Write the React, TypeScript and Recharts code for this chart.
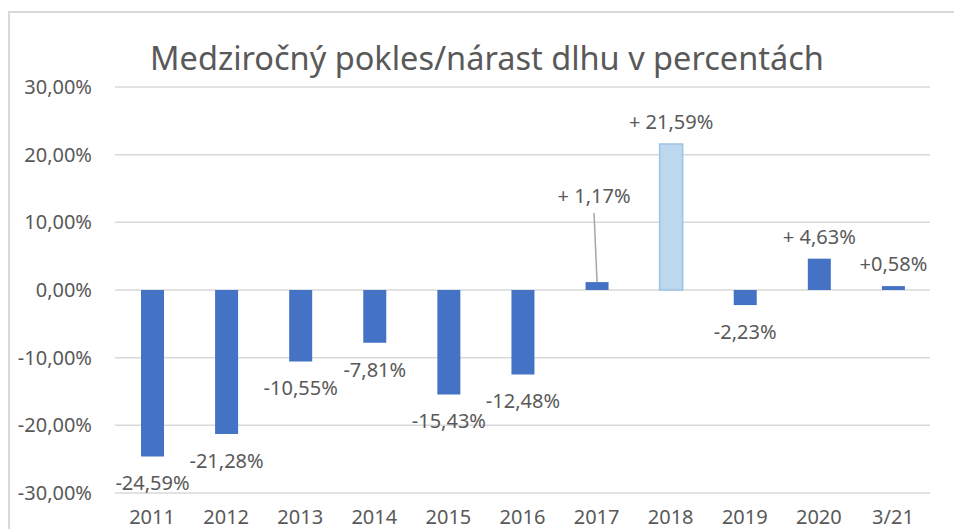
import React from 'react';
import { BarChart, Bar, XAxis, YAxis, CartesianGrid, Cell, LabelList } from 'recharts';

const categories = ['2011', '2012', '2013', '2014', '2015', '2016', '2017', '2018', '2019', '2020', '3/21'];
const changes = [-24.59, -21.28, -10.55, -7.81, -15.43, -12.48, 1.17, 21.59, -2.23, 4.63, 0.58];
const valueLabels = ['-24,59%', '-21,28%', '-10,55%', '-7,81%', '-15,43%', '-12,48%', '+ 1,17%', '+ 21,59%', '-2,23%', '+ 4,63%', '+0,58%'];
const yTicks = [-30, -20, -10, 0, 10, 20, 30];
const highlightedCategories = ['2018'];
const leaderLabelCategories = ['2017'];

const title = 'Medziročný pokles/nárast dlhu v percentách';

const FONT = '"Noto Sans", "Open Sans", sans-serif';
const TEXT = '#595959';
const BAR = '#4472C4';
const BAR_HI = '#BDD7EE';
const BAR_HI_STROKE = '#9DC3E6';
const GRID = '#D9D9D9';

const table = categories.map((c, i) => ({ category: c, value: changes[i], label: valueLabels[i] }));

const fmtPct = (v: number) => v.toFixed(2).replace('.', ',') + '%';

const BarLabel = (props: any) => {
  const { x, y, width, height, value, index } = props;
  const cx = Number(x) + Number(width) / 2;
  const top = Math.min(Number(y), Number(y) + Number(height));
  const bottom = Math.max(Number(y), Number(y) + Number(height));
  const neg = String(value).startsWith('-');
  const cat = categories[index];
  if (!neg && leaderLabelCategories.includes(cat)) {
    const labelCenter = top - 86;
    return (
      <g>
        <line x1={cx - 3} y1={labelCenter + 17} x2={cx} y2={top} stroke="#A6A6A6" strokeWidth={1.5} />
        <text x={cx - 3} y={labelCenter + 7} textAnchor="middle" fill={TEXT} fontSize={20} fontFamily={FONT}>
          {value}
        </text>
      </g>
    );
  }
  const center = neg ? bottom + 27 : top - 22;
  return (
    <text x={cx} y={center + 7} textAnchor="middle" fill={TEXT} fontSize={20} fontFamily={FONT}>
      {value}
    </text>
  );
};

export default function App() {
  return (
    <div
      style={{
        position: 'fixed',
        left: 0,
        top: 0,
        width: 954,
        height: 529,
        overflow: 'hidden',
        background: '#fff',
      }}
    >
      <style>{'html,body{overflow:hidden;}'}</style>
      <div style={{ position: 'absolute', left: 8, top: 8, width: 946, height: 521 }}>
        <div
          style={{
            position: 'absolute',
            left: 0,
            top: 3,
            right: -10,
            bottom: -10,
            borderTop: `2px solid ${GRID}`,
            borderLeft: `2px solid ${GRID}`,
          }}
        />
        <div
          style={{
            position: 'absolute',
            left: 479 - 400,
            width: 800,
            top: 29,
            textAlign: 'center',
            fontFamily: FONT,
            fontSize: 32.5,
            color: TEXT,
            lineHeight: '42px',
            whiteSpace: 'nowrap',
          }}
        >
          {title}
        </div>
        <div style={{ position: 'absolute', left: 0, top: 0 }}>
          <BarChart width={946} height={521} data={table} margin={{ top: 79, right: 24, bottom: 0, left: 0 }}>
            <CartesianGrid vertical={false} stroke={GRID} strokeWidth={1.5} />
            <XAxis
              dataKey="category"
              axisLine={false}
              tickLine={false}
              tickSize={0}
              tickMargin={17}
              height={36}
              interval={0}
              tick={{ fill: TEXT, fontSize: 20, fontFamily: FONT }}
            />
            <YAxis
              domain={[-30, 30]}
              ticks={yTicks}
              axisLine={false}
              tickLine={false}
              tickSize={0}
              tickMargin={23}
              width={107}
              tickFormatter={fmtPct}
              tick={{ fill: TEXT, fontSize: 20, fontFamily: FONT }}
            />
            <Bar dataKey="value" barSize={23} isAnimationActive={false}>
              {table.map((d) => {
                const hi = highlightedCategories.includes(d.category);
                return (
                  <Cell
                    key={d.category}
                    fill={hi ? BAR_HI : BAR}
                    stroke={hi ? BAR_HI_STROKE : 'none'}
                    strokeWidth={hi ? 1.5 : 0}
                  />
                );
              })}
              <LabelList dataKey="label" content={BarLabel} />
            </Bar>
          </BarChart>
        </div>
      </div>
    </div>
  );
}
